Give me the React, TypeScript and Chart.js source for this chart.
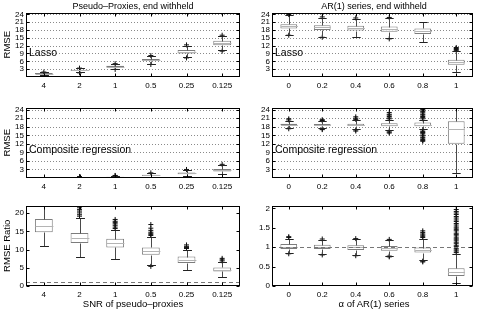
import React, { useEffect, useRef } from 'react';
import { Chart, registerables } from 'chart.js';

Chart.register(...registerables);

// ---------- categories & ticks ----------
const snrLabels = ['4', '2', '1', '0.5', '0.25', '0.125'];
const arLabels = ['0', '0.2', '0.4', '0.6', '0.8', '1'];
const rmseTicks = [3, 6, 9, 12, 15, 18, 21, 24];
const ratioSnrTicks = [0, 5, 10, 15, 20];
const ratioArTicks = [0, 0.5, 1, 1.5, 2];

// ---------- Lasso, pseudo-proxies (RMSE) ----------
const lassoSnrLo = [0.8, 1.8, 3.1, 5.0, 7.6, 10.2];
const lassoSnrQ1 = [1.1, 2.3, 3.7, 6.2, 9.0, 12.2];
const lassoSnrMed = [1.3, 2.6, 4.0, 6.5, 9.6, 13.0];
const lassoSnrQ3 = [1.5, 2.8, 4.3, 6.9, 10.3, 13.9];
const lassoSnrHi = [1.8, 3.3, 4.9, 8.0, 12.0, 15.6];
const lassoSnrOut = [[1.9], [3.4, 1.6], [5.1, 2.9], [8.2, 4.8], [12.3, 7.3], [16.0, 9.9]];

// ---------- Lasso, AR(1) (RMSE) ----------
const lassoArLo = [16.2, 15.4, 15.4, 14.8, 13.5, 2.0];
const lassoArQ1 = [18.6, 18.0, 17.8, 17.3, 16.5, 4.7];
const lassoArMed = [19.5, 19.0, 18.8, 18.4, 17.6, 5.6];
const lassoArQ3 = [20.2, 19.8, 19.6, 19.3, 18.6, 6.6];
const lassoArHi = [23.6, 22.7, 22.3, 22.5, 20.9, 9.9];
const lassoArOut = [[23.9, 16.0], [23.0, 15.2], [22.6], [22.8, 14.6], [], [10.2, 10.5, 10.9, 11.3]];

// ---------- Composite regression, pseudo-proxies (RMSE) ----------
const compSnrLo = [0.05, 0.08, 0.1, 0.4, 0.8, 1.4];
const compSnrQ1 = [0.1, 0.15, 0.25, 0.7, 1.3, 2.3];
const compSnrMed = [0.15, 0.2, 0.35, 0.9, 1.6, 2.7];
const compSnrQ3 = [0.2, 0.3, 0.45, 1.1, 1.9, 3.2];
const compSnrHi = [0.3, 0.45, 0.7, 1.6, 2.8, 4.5];
const compSnrOut = [[], [0.5], [0.8, 0.9], [1.8], [3.0], [4.8]];

// ---------- Composite regression, AR(1) (RMSE) ----------
const compArLo = [17.6, 17.5, 17.2, 16.8, 17.2, 1.7];
const compArQ1 = [18.5, 18.4, 18.3, 18.2, 18.2, 12.0];
const compArMed = [18.8, 18.7, 18.7, 18.7, 18.8, 17.2];
const compArQ3 = [19.1, 19.0, 19.1, 19.2, 19.5, 19.9];
const compArHi = [20.0, 19.9, 20.3, 20.5, 20.5, 25.0];
const compArOut = [
  [20.4, 20.8, 17.3],
  [20.2, 20.5, 17.2, 17.0],
  [20.6, 21.0, 21.5, 16.9, 16.5],
  [20.8, 21.1, 21.6, 22.1, 22.4, 23.0, 16.5, 16.1, 15.8],
  [20.8, 21.3, 21.6, 22.1, 22.4, 22.9, 23.3, 23.6, 24.1, 24.4, 16.9, 16.3, 16.0, 15.7, 15.1, 14.8, 14.3, 14.0, 13.5, 13.2, 12.9],
  [],
];

// ---------- RMSE ratio, pseudo-proxies ----------
const ratioSnrLo = [10.9, 8.1, 7.3, 5.8, 4.5, 2.6];
const ratioSnrQ1 = [14.8, 11.8, 10.6, 8.6, 6.3, 4.0];
const ratioSnrMed = [16.6, 13.2, 11.8, 9.6, 7.2, 4.5];
const ratioSnrQ3 = [18.4, 14.6, 13.0, 10.6, 8.1, 5.1];
const ratioSnrHi = [24.0, 18.8, 15.5, 13.6, 10.0, 6.6];
const ratioSnrOut = [
  [],
  [19.2, 19.6, 20.1, 20.6, 21.0, 21.5, 21.9],
  [15.8, 16.2, 16.7, 17.1, 17.5, 17.8, 18.3],
  [13.9, 14.2, 14.5, 14.8, 15.3, 15.9, 16.9, 5.4],
  [10.3, 10.6, 10.9, 11.3],
  [6.9, 7.2, 7.6],
];

// ---------- RMSE ratio, AR(1) ----------
const ratioArLo = [0.85, 0.82, 0.8, 0.76, 0.66, 0.08];
const ratioArQ1 = [0.95, 0.95, 0.93, 0.91, 0.86, 0.26];
const ratioArMed = [1.01, 1.01, 1.0, 0.98, 0.93, 0.35];
const ratioArQ3 = [1.08, 1.06, 1.05, 1.03, 0.99, 0.46];
const ratioArHi = [1.22, 1.19, 1.2, 1.18, 1.22, 0.83];
const ratioArOut = [
  [1.25, 1.27, 0.83],
  [1.21, 0.8],
  [1.22, 0.78],
  [1.2, 0.77, 0.75],
  [1.25, 1.28, 1.31, 1.34, 1.38, 1.42, 0.64, 0.62],
  [0.86, 0.9, 0.93, 0.97, 1.02, 1.05, 1.1, 1.13, 1.18, 1.21, 1.24, 1.29, 1.33, 1.36, 1.42, 1.45, 1.49, 1.52, 1.57, 1.61, 1.66, 1.7, 1.75, 1.79, 1.84, 1.88, 1.92, 1.97],
];

const FONT = '"Liberation Sans", Arial, Helvetica, sans-serif';

type Box = { lo: number[]; q1: number[]; med: number[]; q3: number[]; hi: number[]; out: number[][] };

interface Panel {
  key: string;
  labels: string[];
  box: Box;
  yMin: number;
  yMax: number;
  yTicks: number[];
  grid: boolean;
  refLine: number | null;
  left: number;
  top: number;
  width: number;
  height: number;
  axisW: number;
  axisH: number;
  padTop: number;
  padRight: number;
}

const COL_L = { left: 0, width: 246, axisW: 26, padRight: 6 };
const COL_R = { left: 246, width: 232, axisW: 26, padRight: 2 };
const ROW_T = { top: 0, height: 100, padTop: 13, axisH: 23 };
const ROW_M = { top: 100, height: 96, padTop: 8, axisH: 18 };
const ROW_B = { top: 196, height: 116, padTop: 10, axisH: 26 };

const panels: Panel[] = [
  {
    key: 'tl', labels: snrLabels,
    box: { lo: lassoSnrLo, q1: lassoSnrQ1, med: lassoSnrMed, q3: lassoSnrQ3, hi: lassoSnrHi, out: lassoSnrOut },
    yMin: 0, yMax: 24.5, yTicks: rmseTicks, grid: true, refLine: null, ...COL_L, ...ROW_T,
  },
  {
    key: 'tr', labels: arLabels,
    box: { lo: lassoArLo, q1: lassoArQ1, med: lassoArMed, q3: lassoArQ3, hi: lassoArHi, out: lassoArOut },
    yMin: 0, yMax: 24.5, yTicks: rmseTicks, grid: true, refLine: null, ...COL_R, ...ROW_T,
  },
  {
    key: 'ml', labels: snrLabels,
    box: { lo: compSnrLo, q1: compSnrQ1, med: compSnrMed, q3: compSnrQ3, hi: compSnrHi, out: compSnrOut },
    yMin: 0, yMax: 24.6, yTicks: rmseTicks, grid: true, refLine: null, ...COL_L, ...ROW_M,
  },
  {
    key: 'mr', labels: arLabels,
    box: { lo: compArLo, q1: compArQ1, med: compArMed, q3: compArQ3, hi: compArHi, out: compArOut },
    yMin: 0, yMax: 24.6, yTicks: rmseTicks, grid: true, refLine: null, ...COL_R, ...ROW_M,
  },
  {
    key: 'bl', labels: snrLabels,
    box: { lo: ratioSnrLo, q1: ratioSnrQ1, med: ratioSnrMed, q3: ratioSnrQ3, hi: ratioSnrHi, out: ratioSnrOut },
    yMin: 0, yMax: 22, yTicks: ratioSnrTicks, grid: false, refLine: 1, ...COL_L, ...ROW_B,
  },
  {
    key: 'br', labels: arLabels,
    box: { lo: ratioArLo, q1: ratioArQ1, med: ratioArMed, q3: ratioArQ3, hi: ratioArHi, out: ratioArOut },
    yMin: 0, yMax: 2.06, yTicks: ratioArTicks, grid: false, refLine: 1, ...COL_R, ...ROW_B,
  },
];

function makePlugin(p: Panel) {
  return {
    id: 'boxDecor',
    beforeDatasetsDraw(chart: any) {
      if (!p.grid) return;
      const { ctx, chartArea: a } = chart;
      const y = chart.scales.y;
      ctx.save();
      ctx.strokeStyle = '#8a8a8a';
      ctx.lineWidth = 1;
      ctx.setLineDash([1, 2]);
      for (const v of p.yTicks) {
        const py = Math.round(y.getPixelForValue(v)) + 0.5;
        if (py <= a.top + 1 || py >= a.bottom - 1) continue;
        ctx.beginPath();
        ctx.moveTo(a.left, py);
        ctx.lineTo(a.right, py);
        ctx.stroke();
      }
      ctx.restore();
    },
    afterDatasetsDraw(chart: any) {
      const { ctx, chartArea: a } = chart;
      const x = chart.scales.x;
      const y = chart.scales.y;
      const step = x.getPixelForValue(1) - x.getPixelForValue(0);
      const b = p.box;
      const Y = (v: number) => Math.round(y.getPixelForValue(v)) + 0.5;
      ctx.save();
      ctx.beginPath();
      ctx.rect(a.left, a.top, a.right - a.left, a.bottom - a.top);
      ctx.clip();
      ctx.lineWidth = 1;
      for (let i = 0; i < p.labels.length; i++) {
        const cx = Math.round(x.getPixelForValue(i)) + 0.5;
        ctx.strokeStyle = '#4a4a4a';
        ctx.beginPath();
        ctx.moveTo(cx, Y(b.q3[i]));
        ctx.lineTo(cx, Y(b.hi[i]));
        ctx.moveTo(cx, Y(b.q1[i]));
        ctx.lineTo(cx, Y(b.lo[i]));
        ctx.stroke();
        const cw = step * 0.125;
        ctx.strokeStyle = '#222';
        ctx.beginPath();
        ctx.moveTo(cx - cw, Y(b.hi[i]));
        ctx.lineTo(cx + cw, Y(b.hi[i]));
        ctx.moveTo(cx - cw, Y(b.lo[i]));
        ctx.lineTo(cx + cw, Y(b.lo[i]));
        ctx.stroke();
        const mw = step * 0.25;
        ctx.strokeStyle = '#b4b4b4';
        ctx.beginPath();
        ctx.moveTo(cx - mw, Y(b.med[i]));
        ctx.lineTo(cx + mw, Y(b.med[i]));
        ctx.stroke();
      }
      if (p.refLine !== null) {
        const py = Y(p.refLine);
        ctx.strokeStyle = '#777';
        ctx.setLineDash([4, 3]);
        ctx.beginPath();
        ctx.moveTo(a.left, py);
        ctx.lineTo(a.right, py);
        ctx.stroke();
        ctx.setLineDash([]);
      }
      ctx.restore();

      ctx.save();
      ctx.strokeStyle = '#000';
      ctx.lineWidth = 1;
      const L = Math.round(a.left) + 0.5;
      const R = Math.round(a.right) - 0.5;
      const T = Math.round(a.top) + 0.5;
      const B = Math.round(a.bottom) - 0.5;
      ctx.strokeRect(L, T, R - L, B - T);
      ctx.beginPath();
      for (const v of p.yTicks) {
        const py = Y(v);
        ctx.moveTo(L, py);
        ctx.lineTo(L + 3, py);
        ctx.moveTo(R, py);
        ctx.lineTo(R - 3, py);
      }
      for (let i = 0; i < p.labels.length; i++) {
        const cx = Math.round(x.getPixelForValue(i)) + 0.5;
        ctx.moveTo(cx, B);
        ctx.lineTo(cx, B - 3);
        ctx.moveTo(cx, T);
        ctx.lineTo(cx, T + 3);
      }
      ctx.stroke();
      ctx.restore();
    },
  };
}

function buildConfig(p: Panel): any {
  const outPts: { x: string; y: number }[] = [];
  p.box.out.forEach((arr, i) => arr.forEach((v) => outPts.push({ x: p.labels[i], y: v })));
  return {
    type: 'bar',
    data: {
      labels: p.labels,
      datasets: [
        {
          type: 'bar',
          data: p.box.q1.map((v, i) => [v, p.box.q3[i]]),
          backgroundColor: '#ffffff',
          borderColor: '#7c7c7c',
          borderWidth: 1,
          borderSkipped: false,
          barPercentage: 0.5,
          categoryPercentage: 1,
          order: 2,
        },
        {
          type: 'line',
          data: outPts,
          showLine: false,
          pointStyle: 'cross',
          pointRadius: 2.5,
          pointBorderWidth: 1,
          pointBorderColor: '#111',
          borderColor: '#111',
          backgroundColor: '#111',
          order: 1,
        },
      ],
    },
    options: {
      animation: false,
      responsive: false,
      maintainAspectRatio: false,
      events: [],
      layout: { padding: { top: p.padTop, right: p.padRight, left: 0, bottom: 0 } },
      plugins: { legend: { display: false }, tooltip: { enabled: false }, title: { display: false } },
      scales: {
        x: {
          type: 'category',
          offset: true,
          grid: { display: false, drawTicks: false },
          border: { display: false },
          ticks: { color: '#000', font: { family: FONT, size: 8 }, padding: 4, maxRotation: 0, autoSkip: false },
          afterFit: (s: any) => { s.height = p.axisH; },
        },
        y: {
          type: 'linear',
          min: p.yMin,
          max: p.yMax,
          grid: { display: false, drawTicks: false },
          border: { display: false },
          ticks: { color: '#000', font: { family: FONT, size: 8 }, padding: 2, autoSkip: false, callback: (v: any) => String(v) },
          afterBuildTicks: (s: any) => { s.ticks = p.yTicks.map((v) => ({ value: v })); },
          afterFit: (s: any) => { s.width = p.axisW; },
        },
      },
    },
    plugins: [makePlugin(p)],
  };
}

function BoxPanel({ p }: { p: Panel }) {
  const ref = useRef<HTMLCanvasElement | null>(null);
  useEffect(() => {
    if (!ref.current) return;
    const chart = new Chart(ref.current, buildConfig(p));
    return () => chart.destroy();
  }, []);
  return (
    <canvas
      ref={ref}
      width={p.width}
      height={p.height}
      style={{ position: 'absolute', left: p.left, top: p.top, width: p.width, height: p.height }}
    />
  );
}

const txt = (s: number): React.CSSProperties => ({
  position: 'absolute',
  fontFamily: FONT,
  fontSize: s,
  lineHeight: `${s}px`,
  color: '#000',
  whiteSpace: 'nowrap',
});

function VLabel({ text, cx, cy, size }: { text: string; cx: number; cy: number; size: number }) {
  return (
    <div
      style={{
        ...txt(size),
        left: cx - 50,
        top: cy - size / 2,
        width: 100,
        height: size,
        textAlign: 'center',
        transform: 'rotate(-90deg)',
        transformOrigin: '50% 50%',
      }}
    >
      {text}
    </div>
  );
}

function CLabel({ text, cx, top, size }: { text: string; cx: number; top: number; size: number }) {
  return (
    <div style={{ ...txt(size), left: cx - 100, top, width: 200, textAlign: 'center' }}>{text}</div>
  );
}

export default function App() {
  return (
    <div style={{ position: 'absolute', left: 0, top: 0, width: 478, height: 312, background: '#fff', overflow: 'hidden' }}>
      {panels.map((p) => (
        <BoxPanel key={p.key} p={p} />
      ))}
      <CLabel text="Pseudo–Proxies, end withheld" cx={133} top={2} size={9} />
      <CLabel text="AR(1) series, end withheld" cx={374} top={2} size={9} />
      <VLabel text="RMSE" cx={7} cy={45} size={9.5} />
      <VLabel text="RMSE" cx={7} cy={143} size={9.5} />
      <VLabel text="RMSE Ratio" cx={7} cy={246} size={9.5} />
      <div style={{ ...txt(10.5), left: 29, top: 47 }}>Lasso</div>
      <div style={{ ...txt(10.5), left: 275, top: 47 }}>Lasso</div>
      <div style={{ ...txt(10.5), left: 29, top: 144 }}>Composite regression</div>
      <div style={{ ...txt(10.5), left: 275, top: 144 }}>Composite regression</div>
      <CLabel text="SNR of pseudo–proxies" cx={133} top={299} size={9.5} />
      <CLabel text="α of AR(1) series" cx={374} top={299} size={9.5} />
    </div>
  );
}
